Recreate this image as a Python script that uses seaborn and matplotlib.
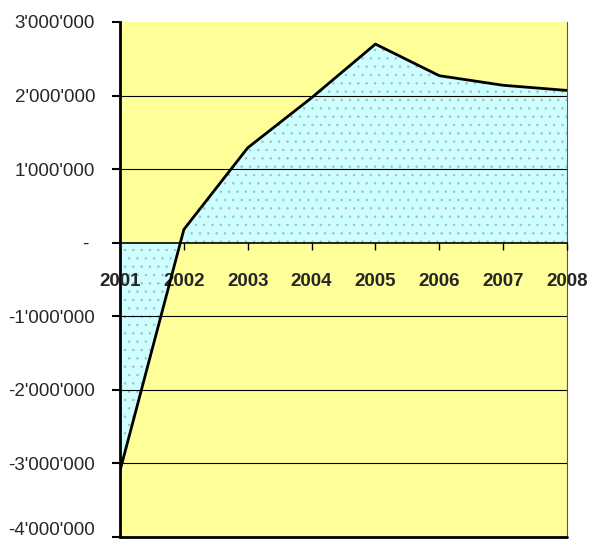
import numpy as np
import pandas as pd
import matplotlib
matplotlib.use('Agg')
import matplotlib.pyplot as plt
import matplotlib.transforms as mtransforms
from matplotlib.ticker import FuncFormatter
import seaborn as sns

years = [2001, 2002, 2003, 2004, 2005, 2006, 2007, 2008]
values = [-3100000, 180000, 1290000, 1970000, 2700000, 2270000, 2140000, 2070000]
yticks = [-4000000, -3000000, -2000000, -1000000, 0, 1000000, 2000000, 3000000]

sns.set_style('white')
plt.rcParams['font.family'] = ['Liberation Sans', 'DejaVu Sans']
plt.rcParams['hatch.color'] = '#b4b4b4'
plt.rcParams['hatch.linewidth'] = 0.5

df = pd.DataFrame({'year': years, 'value': values})

fig = plt.figure(figsize=(6.01, 5.43), dpi=100)
ax = fig.add_axes([120 / 601, 6 / 543, 447 / 601, 515 / 543])
ax.set_facecolor('#ffff99')
ax.set_axisbelow(False)

# filled area between the curve and zero
ax.fill_between(df['year'], df['value'], 0, color='#ccffff', hatch='..',
                edgecolor='#b4b4b4', linewidth=0, interpolate=True, zorder=1)

# horizontal grid lines
for t in yticks[1:-1]:
    if t != 0:
        ax.axhline(t, color='black', lw=0.8, zorder=2)
ax.axhline(-4000000, color='black', lw=2, zorder=4, clip_on=False)

sns.lineplot(data=df, x='year', y='value', color='black', lw=2, ax=ax, zorder=5)

ax.set_xlim(2001, 2008)
ax.set_ylim(-4000000, 3000000)
ax.set_yticks(yticks)


def fmt(v, pos):
    if v == 0:
        return '- '
    s = f'{abs(int(v)):,}'.replace(',', "'")
    return ('-' if v < 0 else '') + s


ax.yaxis.set_major_formatter(FuncFormatter(fmt))
ax.set_xticks(years)
ax.set_xticklabels([str(y) for y in years])
ax.set_xlabel('')
ax.set_ylabel('')

ax.spines['top'].set_visible(False)
ax.spines['right'].set_color('#555555')
ax.spines['right'].set_linewidth(0.8)
ax.spines['left'].set_linewidth(2)
ax.spines['left'].set_color('black')
ax.spines['bottom'].set_position(('data', 0))
ax.spines['bottom'].set_linewidth(1.2)
ax.spines['bottom'].set_color('black')

ax.tick_params(axis='y', direction='out', length=6, width=1.5, color='black',
               labelsize=13.5, pad=12, left=True)
ax.tick_params(axis='x', direction='out', length=5, width=1, color='black',
               labelsize=13.5, pad=17, bottom=True)
for lab in ax.get_xticklabels():
    lab.set_fontweight('bold')

# lowest label sits a bit higher so it stays inside the picture
last = ax.get_yticklabels()[0]
last.set_transform(last.get_transform() + mtransforms.ScaledTranslation(0, 6 / 72, fig.dpi_scale_trans))

fig.savefig('out.png', dpi=100, facecolor='white')
